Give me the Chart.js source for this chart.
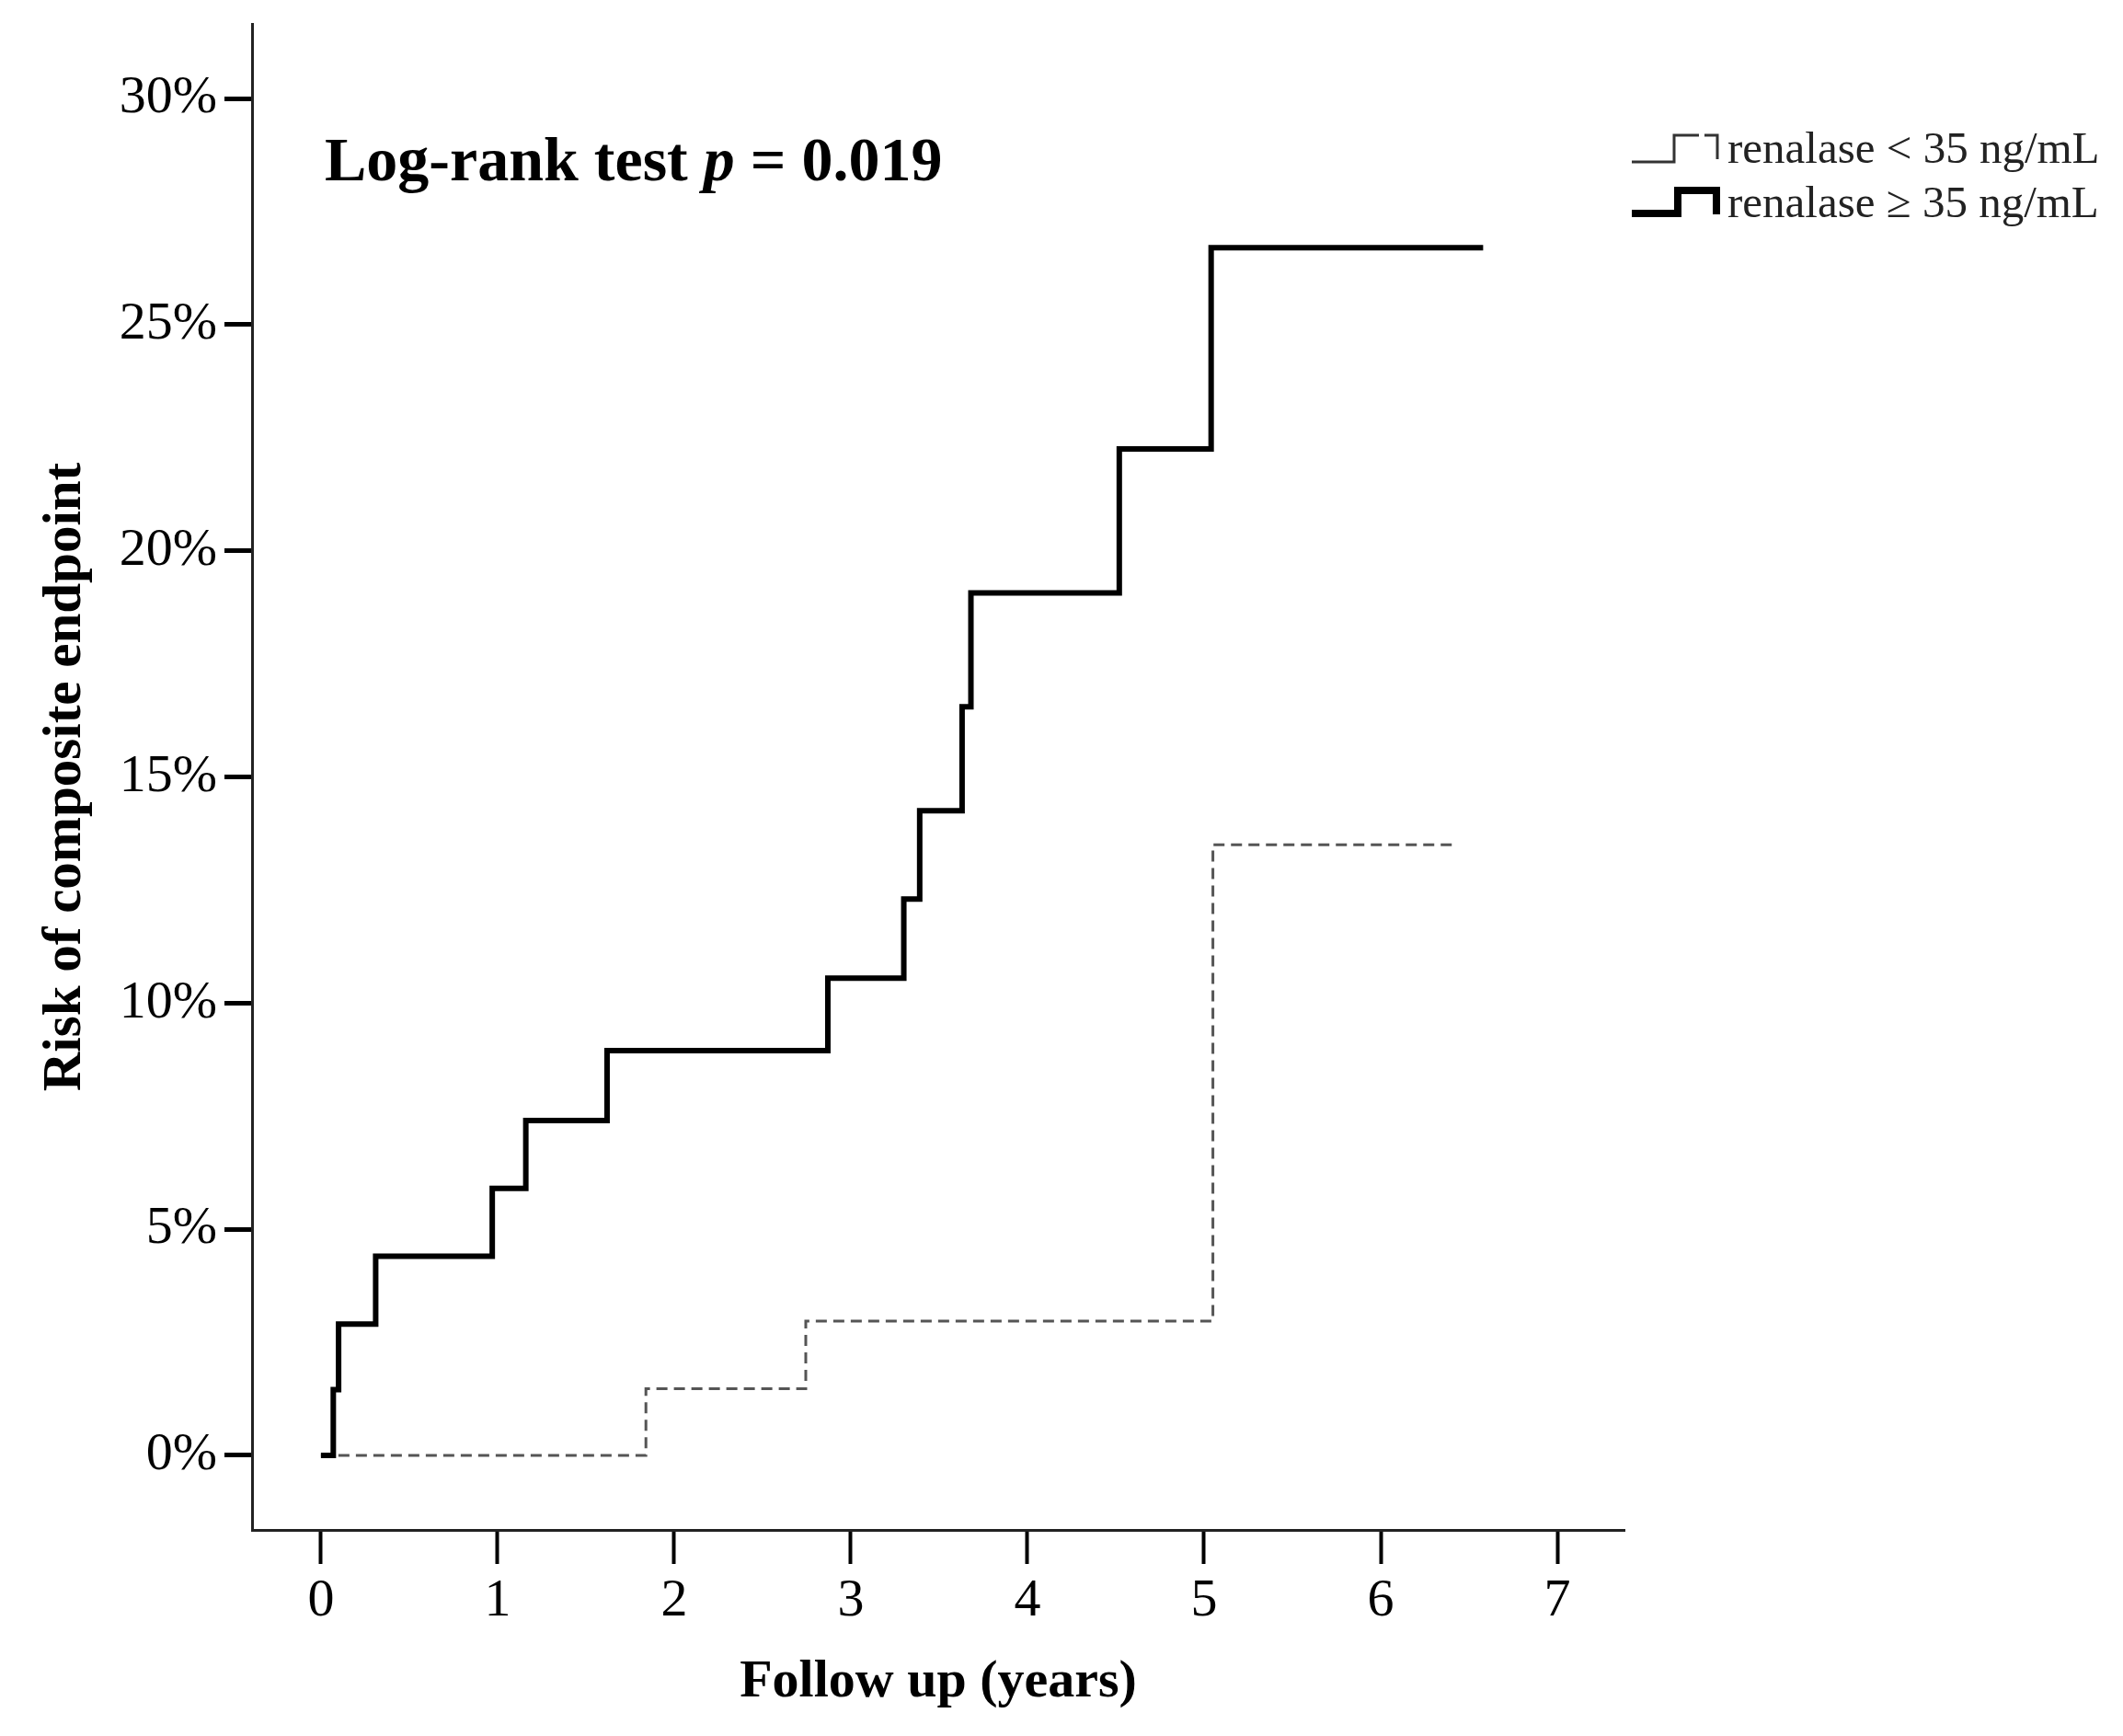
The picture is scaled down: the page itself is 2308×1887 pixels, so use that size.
<!DOCTYPE html>
<html>
<head>
<meta charset="utf-8">
<script src="https://cdn.jsdelivr.net/npm/chart.js@4.4.0/dist/chart.umd.min.js"></script>
<style>
  html, body { margin: 0; padding: 0; background: #fff; }
  canvas { display: block; }
</style>
</head>
<body>
<canvas id="kmCanvas" width="2308" height="1887"></canvas>
<script>
const xTicks = [0, 1, 2, 3, 4, 5, 6, 7]
const yTicks = [0, 5, 10, 15, 20, 25, 30]

// renalase >= 35 ng/mL (cumulative risk, %)
const highTimes = [0, 0.07, 0.10, 0.31, 0.97, 1.16, 1.62, 2.87, 3.30, 3.39, 3.63, 3.68, 4.52, 5.04, 6.58]
const highRisk = [0, 1.45, 2.9, 4.4, 5.9, 7.4, 8.95, 10.55, 12.3, 14.25, 16.55, 19.07, 22.25, 26.7, 26.7]

// renalase < 35 ng/mL
const lowTimes = [0, 1.84, 2.745, 5.05, 6.41]
const lowRisk = [0, 1.47, 2.97, 13.5, 13.5]

const seriesLabels = ['renalase < 35 ng/mL', 'renalase \u2265 35 ng/mL']
const FONT = '"Liberation Serif", "Times New Roman", serif'

const toPoints = (xs, ys) => xs.map((x, i) => ({ x: x, y: ys[i] }))

// text annotation + step-shaped legend keys
const overlayPlugin = {
  id: 'overlay',
  afterDraw(chart) {
    const ctx = chart.ctx
    ctx.save()
    ctx.fillStyle = '#000'
    ctx.textBaseline = 'alphabetic'

    let x = 353
    const y = 196
    ctx.font = 'bold 68px ' + FONT
    ctx.fillText('Log-rank test ', x, y)
    x += ctx.measureText('Log-rank test ').width
    ctx.font = 'italic bold 68px ' + FONT
    ctx.fillText('p', x, y)
    x += ctx.measureText('p').width
    ctx.font = 'bold 68px ' + FONT
    ctx.fillText(' = 0.019', x, y)

    // legend keys
    ctx.strokeStyle = '#333'
    ctx.lineWidth = 3
    ctx.lineJoin = 'miter'
    ctx.beginPath()
    ctx.moveTo(1774, 176); ctx.lineTo(1820, 176); ctx.lineTo(1820, 147); ctx.lineTo(1847, 147)
    ctx.moveTo(1853, 147); ctx.lineTo(1867, 147); ctx.lineTo(1867, 173)
    ctx.stroke()

    ctx.strokeStyle = '#000'
    ctx.lineWidth = 8
    ctx.beginPath()
    ctx.moveTo(1774, 232); ctx.lineTo(1824, 232); ctx.lineTo(1824, 207); ctx.lineTo(1866, 207); ctx.lineTo(1866, 233)
    ctx.stroke()

    ctx.font = '49px ' + FONT
    ctx.fillStyle = '#222'
    ctx.fillText(seriesLabels[0], 1878, 177)
    ctx.fillText(seriesLabels[1], 1878, 236)
    ctx.restore()
  }
}

const kmCanvas = document.getElementById('kmCanvas')
new Chart(kmCanvas, {
  type: 'line',
  data: {
    datasets: [
      {
        label: seriesLabels[1],
        data: toPoints(highTimes, highRisk),
        stepped: 'before',
        borderColor: '#000',
        borderWidth: 6,
        pointRadius: 0,
        fill: false,
        order: 0
      },
      {
        label: seriesLabels[0],
        data: toPoints(lowTimes, lowRisk),
        stepped: 'before',
        borderColor: '#555',
        borderWidth: 3,
        borderDash: [12, 7],
        pointRadius: 0,
        fill: false,
        order: 1
      }
    ]
  },
  options: {
    responsive: false,
    animation: false,
    devicePixelRatio: 1,
    layout: { padding: { left: 0, top: 26, right: 542, bottom: 0 } },
    plugins: {
      legend: { display: false },
      tooltip: { enabled: false }
    },
    scales: {
      x: {
        type: 'linear',
        min: -0.39,
        max: 7.38,
        afterBuildTicks: (scale) => { scale.ticks = xTicks.map(v => ({ value: v })) },
        afterFit: (scale) => {
          scale.height = 224
          scale.paddingLeft = 0
          scale.paddingRight = 0
        },
        grid: { display: true, drawOnChartArea: false, drawTicks: true, tickLength: 37, tickWidth: 4, tickColor: '#000' },
        border: { display: true, color: '#222', width: 3 },
        ticks: { color: '#000', padding: 6, font: { family: FONT, size: 58 } },
        title: {
          display: true,
          text: 'Follow up (years)',
          color: '#000',
          font: { family: FONT, size: 58, weight: 'bold' },
          padding: { top: 0, bottom: 23 }
        }
      },
      y: {
        type: 'linear',
        min: -1.65,
        max: 31.65,
        afterBuildTicks: (scale) => { scale.ticks = yTicks.map(v => ({ value: v })) },
        afterFit: (scale) => {
          scale.width = 274
          scale.paddingTop = 0
          scale.paddingBottom = 0
        },
        grid: { display: true, drawOnChartArea: false, drawTicks: true, tickLength: 30, tickWidth: 5, tickColor: '#000' },
        border: { display: true, color: '#222', width: 3 },
        ticks: {
          color: '#000',
          padding: 8,
          font: { family: FONT, size: 58 },
          callback: (v) => v + '%'
        },
        title: {
          display: true,
          text: 'Risk of composite endpoint',
          color: '#000',
          font: { family: FONT, size: 59, weight: 'bold' },
          padding: { top: 36, bottom: 0 }
        }
      }
    }
  },
  plugins: [overlayPlugin]
})
</script>
</body>
</html>
